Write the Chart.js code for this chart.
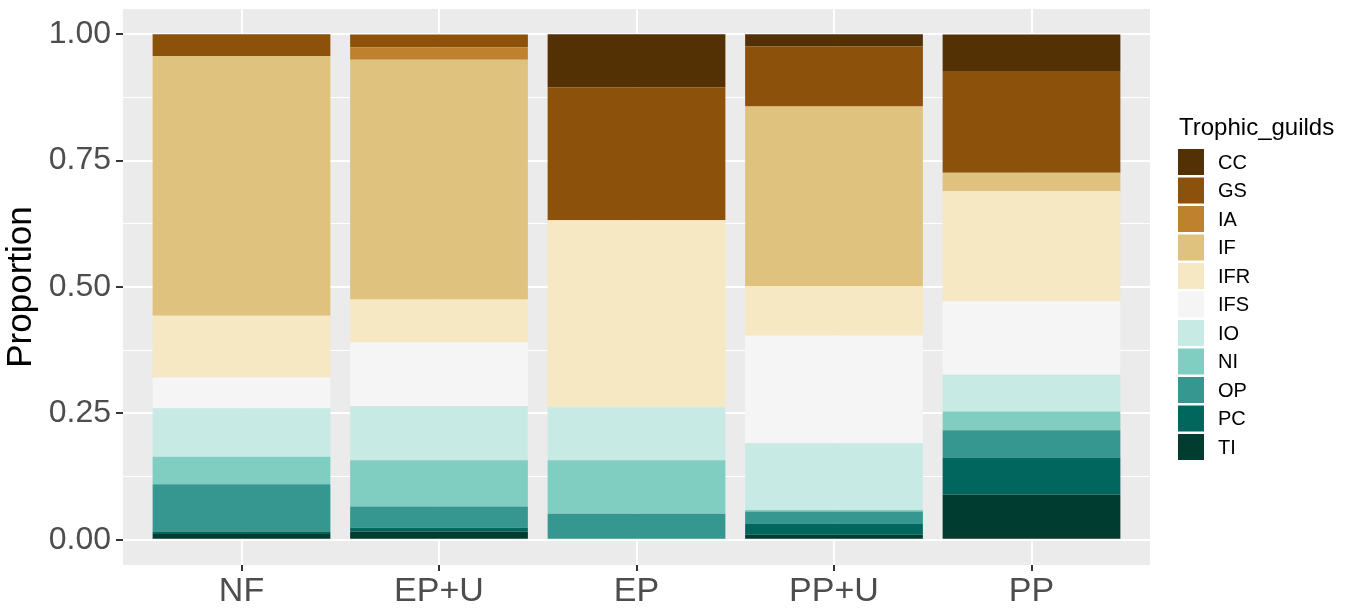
<!DOCTYPE html>
<html lang="en">
<head>
  <meta charset="UTF-8">
  <title>Trophic guilds</title>
  <script src="https://cdn.jsdelivr.net/npm/chart.js"></script>
  <style>
    html, body { margin: 0; padding: 0; background: #fff; }
    .wrap { width: 1355px; height: 616px; }
  </style>
</head>
<body>
  <div class="wrap"><canvas id="chart"></canvas></div>
  <script>
    // sites on the x axis
    const sites = ['NF', 'EP+U', 'EP', 'PP+U', 'PP'];
    // guilds, top of the stack first (legend order)
    const guilds = ['CC', 'GS', 'IA', 'IF', 'IFR', 'IFS', 'IO', 'NI', 'OP', 'PC', 'TI'];
    const guildColors = ['#543005', '#8c510a', '#bf812d', '#dfc27d', '#f6e8c3', '#f5f5f5',
                         '#c7eae5', '#80cdc1', '#35978f', '#01665e', '#003c30'];

    // proportion per site, same order as sites
    const CC  = [0,      0,      0.105,  0.024,  0.0725];
    const GS  = [0.043,  0.025,  0.263,  0.119,  0.201];
    const IA  = [0,      0.025,  0,      0,      0];
    const IF  = [0.514,  0.474,  0,      0.355,  0.0365];
    const IFR = [0.122,  0.085,  0.370,  0.098,  0.218];
    const IFS = [0.061,  0.126,  0,      0.213,  0.145];
    const IO  = [0.096,  0.1075, 0.1045, 0.132,  0.073];
    const NI  = [0.054,  0.0915, 0.106,  0.003,  0.037];
    const OP  = [0.0935, 0.042,  0.0514, 0.024,  0.054];
    const PC  = [0.005,  0.007,  0,      0.022,  0.073];
    const TI  = [0.0115, 0.0165, 0,      0.0099, 0.0896];

    const yTicks = [0, 0.25, 0.5, 0.75, 1];
    const yMinor = [0.125, 0.375, 0.625, 0.875];

    const series = [CC, GS, IA, IF, IFR, IFS, IO, NI, OP, PC, TI];

    Chart.defaults.font.family = 'Arial, "Liberation Sans", sans-serif';

    // chart.js stacks the first dataset at the bottom, so go from TI up
    const datasets = guilds.map((g, k) => ({
      label: g,
      data: series[k].map((v, i) => ({ x: i, y: v })),
      backgroundColor: guildColors[k],
      borderWidth: 0,
      barPercentage: 0.9,
      categoryPercentage: 1.0
    })).reverse();

    const panelBg = {
      id: 'panelBg',
      beforeDraw(chart) {
        const a = chart.chartArea;
        const ctx = chart.ctx;
        ctx.save();
        ctx.fillStyle = '#ebebeb';
        ctx.fillRect(a.left, a.top, a.right - a.left, a.bottom - a.top);
        ctx.restore();
      }
    };

    const guildLegend = {
      id: 'guildLegend',
      afterDraw(chart) {
        const ctx = chart.ctx;
        const x0 = chart.chartArea.right + 28;
        ctx.save();
        ctx.fillStyle = '#000';
        ctx.font = '24px Arial, "Liberation Sans", sans-serif';
        ctx.textBaseline = 'alphabetic';
        ctx.fillText('Trophic_guilds', x0 + 1, 135);
        ctx.font = '20px Arial, "Liberation Sans", sans-serif';
        ctx.textBaseline = 'middle';
        guilds.forEach((g, i) => {
          const y = 149 + i * 28.5;
          ctx.fillStyle = guildColors[i];
          ctx.fillRect(x0, y, 26, 26);
          ctx.fillStyle = '#000';
          ctx.fillText(g, x0 + 40, y + 14);
        });
        ctx.restore();
      }
    };

    new Chart(document.getElementById('chart'), {
      type: 'bar',
      data: { datasets },
      plugins: [panelBg, guildLegend],
      options: {
        responsive: true,
        maintainAspectRatio: false,
        animation: false,
        layout: { padding: { top: 9, right: 205, left: 0, bottom: 0 } },
        plugins: {
          legend: { display: false },
          tooltip: { enabled: false }
        },
        scales: {
          x: {
            type: 'linear',
            min: -0.6,
            max: 4.6,
            offset: false,
            stacked: true,
            afterBuildTicks(scale) {
              scale.ticks = sites.map((s, i) => ({ value: i }));
            },
            afterFit(scale) {
              scale.height = 51;
              scale.paddingLeft = 0;
              scale.paddingRight = 0;
            },
            ticks: {
              callback: (v) => sites[v],
              color: '#4d4d4d',
              font: { size: 34 },
              padding: 0,
              autoSkip: false,
              maxRotation: 0
            },
            grid: {
              offset: false,
              color: '#ffffff',
              lineWidth: 2,
              tickColor: '#333333',
              tickLength: 6
            },
            border: { display: false }
          },
          y: {
            min: -0.05,
            max: 1.05,
            stacked: true,
            afterBuildTicks(scale) {
              scale.ticks = yTicks.concat(yMinor).sort((a, b) => a - b).map(v => ({ value: v }));
            },
            afterFit(scale) {
              scale.width = 123;
              scale.paddingTop = 0;
              scale.paddingBottom = 0;
            },
            ticks: {
              callback: (v) => yTicks.includes(v) ? v.toFixed(2) : '',
              color: '#4d4d4d',
              font: { size: 32 },
              padding: 5
            },
            grid: {
              color: '#ffffff',
              lineWidth: (c) => yTicks.includes(c.tick.value) ? 2 : 1,
              tickColor: (c) => yTicks.includes(c.tick.value) ? '#333333' : 'rgba(0,0,0,0)',
              tickLength: 7
            },
            border: { display: false },
            title: {
              display: true,
              text: 'Proportion',
              color: '#000',
              font: { size: 35 },
              padding: { top: 0, bottom: 0 }
            }
          }
        }
      }
    });
  </script>
</body>
</html>
